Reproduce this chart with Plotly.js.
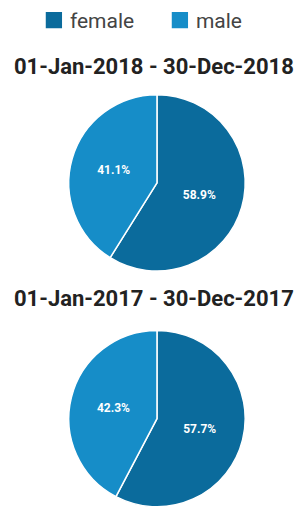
<!DOCTYPE html>
<html>
<head>
<meta charset="utf-8">
<script src="https://cdn.plot.ly/plotly-3.0.1.min.js"></script>
<style>html,body{margin:0;padding:0;background:#fff;}#chart{width:299px;height:508px;}</style>
</head>
<body>
<div id="chart"></div>
<script>
var labels = ["female", "male"];
var values2018 = [58.9, 41.1];
var values2017 = [57.7, 42.3];
var periods = ["01-Jan-2018 - 30-Dec-2018", "01-Jan-2017 - 30-Dec-2017"];
var colors = ["#0b6b9c", "#168dc8"];

function pieTrace(vals, ydom, show) {
  return {
    type: "pie",
    labels: labels,
    values: vals,
    sort: false,
    direction: "clockwise",
    rotation: 0,
    marker: {colors: colors, line: {color: "#ffffff", width: 1.5}},
    textinfo: "percent",
    texttemplate: "%{percent:.1%}",
    textposition: "inside",
    insidetextorientation: "horizontal",
    textfont: {color: "#ffffff", size: 12, family: "Roboto, Arial, sans-serif", weight: "bold"},
    domain: {x: [0.23, 0.82], y: ydom},
    showlegend: show,
    hoverinfo: "label+percent"
  };
}

var data = [
  pieTrace(values2018, [0.465, 0.815], true),
  pieTrace(values2017, [0.0, 0.352], false)
];

var layout = {
  width: 299, height: 508,
  margin: {l: 0, r: 0, t: 0, b: 0},
  paper_bgcolor: "#ffffff",
  showlegend: true,
  legend: {
    orientation: "h", x: 0.1, xanchor: "left", y: 1.0, yanchor: "top",
    font: {family: "Roboto, Arial, sans-serif", size: 21, color: "#444"},
    itemwidth: 30,
    entrywidth: 81
  },
  annotations: [
    {text: periods[0], x: 0.515, y: 1 - 66/508, xref: "paper", yref: "paper", showarrow: false,
     xanchor: "center", yanchor: "middle", font: {family: "Roboto, Arial, sans-serif", size: 22, color: "#222", weight: "bold"}},
    {text: periods[1], x: 0.515, y: 1 - 298/508, xref: "paper", yref: "paper", showarrow: false,
     xanchor: "center", yanchor: "middle", font: {family: "Roboto, Arial, sans-serif", size: 22, color: "#222", weight: "bold"}}
  ]
};

Plotly.newPlot("chart", data, layout, {displayModeBar: false, staticPlot: true}).then(function (gd) {
  gd.querySelectorAll(".legendpoints path").forEach(function (p) {
    p.setAttribute("transform", "translate(24,0) scale(1.55)");
  });
});
</script>
</body>
</html>
